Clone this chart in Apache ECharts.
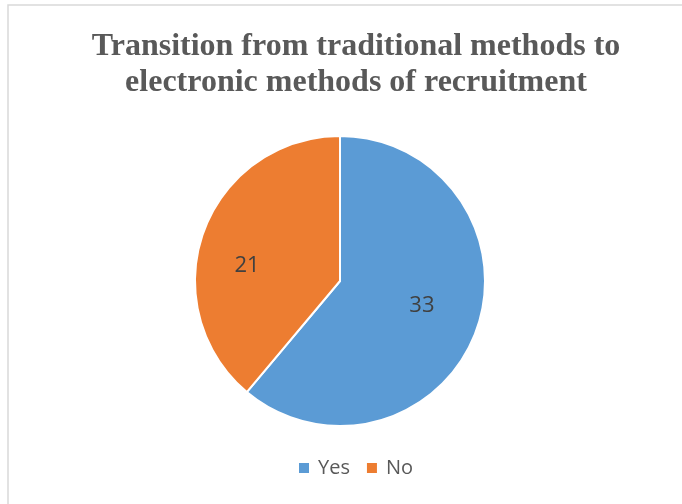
<!DOCTYPE html>
<html>
<head>
<meta charset="utf-8">
<script src="https://cdn.jsdelivr.net/npm/echarts@6/dist/echarts.min.js"></script>
<style>
  html, body { margin: 0; padding: 0; background: #fff; }
  #chart { width: 682px; height: 504px; }
</style>
</head>
<body>
<div id="chart"></div>
<script>
var categories = ["Yes", "No"]
var values = [33, 21]
var colors = ["#5b9bd5", "#ed7d31"]
// nudges to mimic Excel's label placement
var labelOffsets = [[11, -1], [-22, 11]]

var chart = echarts.init(document.getElementById("chart"))

function getSeriesData() {
  var data = []
  for (var i = 0; i < categories.length; i++) {
    data.push({
      name: categories[i],
      value: values[i],
      itemStyle: { color: colors[i] },
      label: { offset: labelOffsets[i] },
    })
  }
  return data
}

var option = {
  backgroundColor: "#ffffff",
  animation: false,
  title: {
    text: "Transition from traditional methods to\nelectronic methods of recruitment",
    left: 351,
    textAlign: "center",
    top: 24,
    textStyle: {
      fontFamily: "Liberation Serif",
      fontWeight: "bold",
      fontSize: 32,
      lineHeight: 36,
      color: "#595959",
    },
  },
  legend: {
    top: 458,
    left: 297,
    padding: 0,
    itemWidth: 12,
    itemHeight: 12,
    itemGap: 15,
    icon: "rect",
    textStyle: { fontFamily: "Open Sans", fontSize: 20, color: "#595959", padding: [0, 0, 0, 3] },
    data: categories,
  },
  graphic: [
    {
      type: "rect",
      shape: { x: 8, y: 5, width: 700, height: 520 },
      style: { fill: "none", stroke: "#d9d9d9", lineWidth: 1.5 },
      silent: true,
    },
  ],
  series: [
    {
      type: "pie",
      center: [340, 281],
      radius: 145,
      startAngle: 90,
      clockwise: true,
      itemStyle: { borderColor: "#ffffff", borderWidth: 2 },
      label: {
        show: true,
        position: "inside",
        formatter: "{c}",
        fontFamily: "Open Sans",
        fontSize: 22,
        color: "#404040",
      },
      labelLine: { show: false },
      emphasis: { disabled: true },
      data: getSeriesData(),
    },
  ],
}

chart.setOption(option)
</script>
</body>
</html>
